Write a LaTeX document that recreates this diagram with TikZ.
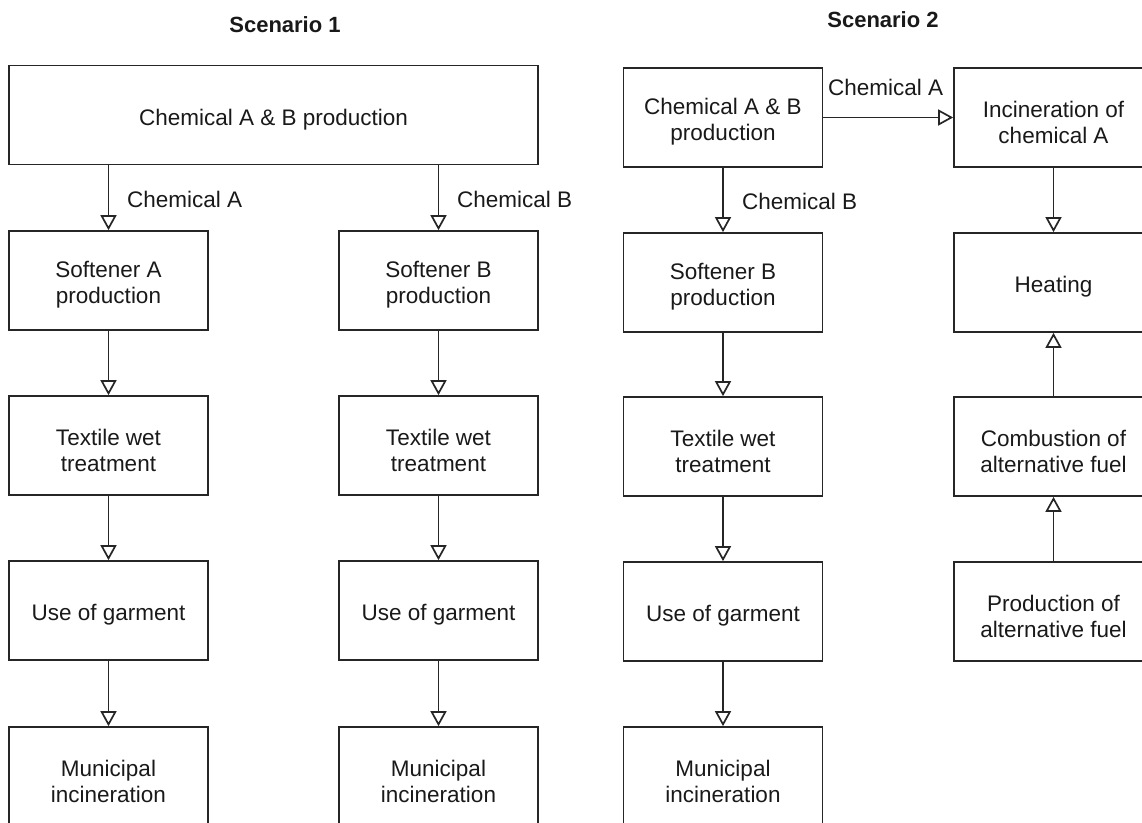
\documentclass[tikz,border=0pt]{standalone}
\usepackage{fontspec}
\setmainfont{Liberation Sans}
\usetikzlibrary{arrows.meta,calc}
\newcommand\bx[4][box]{\node[#1] (#2) at #3 {}; \node[txt] (#2-t) at (#2) {#4};}
\begin{document}
\begin{tikzpicture}[x=1pt,y=-1pt,
  every node/.style={font=\fontsize{22.5}{26}\selectfont, text=black!90},
  box/.style={draw=black!85, line width=1.7pt, minimum width=199pt, minimum height=99pt, inner sep=0pt},
  wide/.style={box, minimum width=529pt},
  txt/.style={align=center, inner sep=0pt, yshift=-4.5pt},
  title/.style={font=\bfseries\fontsize{22}{26}\selectfont},
  lbl/.style={anchor=west, inner sep=0pt},
  flow/.style={draw=black!85, line width=1.7pt, -{Triangle[open,length=15pt,width=16pt,line width=1.7pt]}}
]
\useasboundingbox (0,0) rectangle (1142,822);
\clip (0,0) rectangle (1142,822);
% Scenario 1
\node[title] (t1) at (285,25) {Scenario 1};
\bx[wide]{top1}{(273.5,115)}{Chemical A \& B production}
\bx{sa}{(108.5,280.5)}{Softener A\\production}
\bx{sb}{(438.5,280.5)}{Softener B\\production}
\bx{ta}{(108.5,445.5)}{Textile wet\\treatment}
\bx{tb}{(438.5,445.5)}{Textile wet\\treatment}
\bx{ua}{(108.5,610.5)}{Use of garment}
\bx{ub}{(438.5,610.5)}{Use of garment}
\bx{ma}{(108.5,776.5)}{Municipal\\incineration}
\bx{mb}{(438.5,776.5)}{Municipal\\incineration}
\node[lbl] (la) at (127,199) {Chemical A};
\node[lbl] (lb) at (457,199) {Chemical B};
\draw[flow] (sa.north |- top1.south) -- (sa.north);
\draw[flow] (sb.north |- top1.south) -- (sb.north);
\draw[flow] (sa) -- (ta);
\draw[flow] (sb) -- (tb);
\draw[flow] (ta) -- (ua);
\draw[flow] (tb) -- (ub);
\draw[flow] (ua) -- (ma);
\draw[flow] (ub) -- (mb);
% Scenario 2
\node[title] (t2) at (883,20) {Scenario 2};
\bx{c2}{(723,117.5)}{Chemical A \& B\\production}
\bx{inc}{(1053.5,117.5)}{Incineration of\\chemical A}
\bx{s2}{(723,282.5)}{Softener B\\production}
\bx{heat}{(1053.5,282.5)}{Heating}
\bx{tx2}{(723,446.5)}{Textile wet\\treatment}
\bx{comb}{(1053.5,446.5)}{Combustion of\\alternative fuel}
\bx{u2}{(723,611.5)}{Use of garment}
\bx{prod}{(1053.5,611.5)}{Production of\\alternative fuel}
\bx{m2}{(723,776.5)}{Municipal\\incineration}
\node[lbl] (l2a) at (828,87) {Chemical A};
\node[lbl] (l2b) at (742,201) {Chemical B};
\draw[flow] (c2) -- (inc);
\draw[flow] (c2) -- (s2);
\draw[flow] (s2) -- (tx2);
\draw[flow] (tx2) -- (u2);
\draw[flow] (u2) -- (m2);
\draw[flow] (inc) -- (heat);
\draw[flow] (comb) -- (heat);
\draw[flow] (prod) -- (comb);
\end{tikzpicture}
\end{document}
